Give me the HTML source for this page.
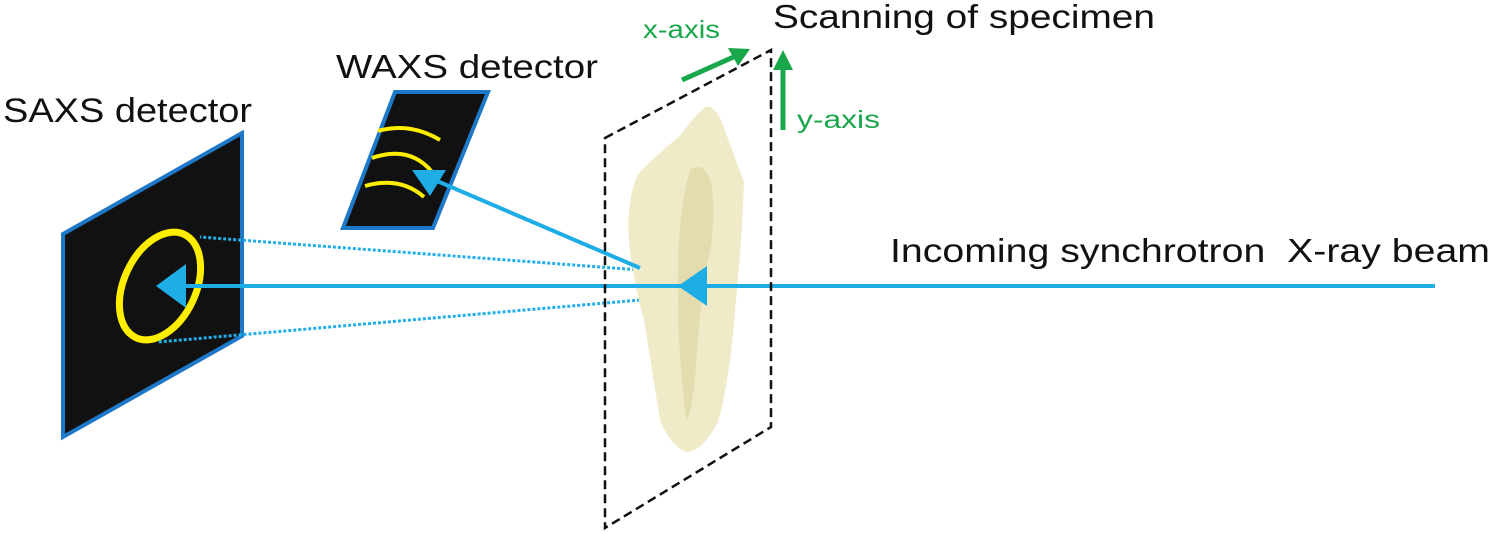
<!DOCTYPE html>
<html><head><style>body{margin:0;background:#fff}svg{display:block}</style></head><body>
<svg width="1502" height="534" viewBox="0 0 1502 534" xmlns="http://www.w3.org/2000/svg" font-family="Liberation Sans, DejaVu Sans, sans-serif">
<text x="3" y="122" font-size="34" fill="#111" textLength="249" lengthAdjust="spacingAndGlyphs">SAXS detector</text>
<text x="336" y="78" font-size="33" fill="#111" textLength="262" lengthAdjust="spacingAndGlyphs">WAXS detector</text>
<text x="773" y="28" font-size="33" fill="#111" textLength="382" lengthAdjust="spacingAndGlyphs">Scanning of specimen</text>
<text x="890" y="262" font-size="33" fill="#111" textLength="600" lengthAdjust="spacingAndGlyphs" xml:space="preserve">Incoming synchrotron  X-ray beam</text>
<text x="643" y="38" font-size="25" fill="#1aa64a" textLength="77" lengthAdjust="spacingAndGlyphs">x-axis</text>
<text x="797" y="128" font-size="25" fill="#1aa64a" textLength="83" lengthAdjust="spacingAndGlyphs">y-axis</text>
<!-- SAXS panel -->
<polygon points="63,234 242,133 242,336 63,437" fill="#111" stroke="#1e78c8" stroke-width="4"/>
<ellipse cx="160" cy="286" rx="36" ry="57" transform="rotate(25 160 286)" fill="none" stroke="#ffee00" stroke-width="7"/>
<!-- WAXS panel -->
<polygon points="395,92 488,92 433,228 343,228" fill="#111" stroke="#1e78c8" stroke-width="4"/>
<path d="M378,131 Q410,122 440,140" fill="none" stroke="#ffee00" stroke-width="4"/>
<path d="M372,158 Q410,145 432,172" fill="none" stroke="#ffee00" stroke-width="4"/>
<path d="M365,186 Q400,176 424,197" fill="none" stroke="#ffee00" stroke-width="4"/>
<!-- dotted lines -->
<line x1="640" y1="270" x2="200" y2="237" stroke="#22aee8" stroke-width="3" stroke-dasharray="3,2"/>
<line x1="640" y1="300" x2="158" y2="342" stroke="#22aee8" stroke-width="3" stroke-dasharray="3,2"/>
<!-- tooth -->
<path d="M705,107 Q716,104 724,128 L744,182 Q742,240 736,300 Q730,380 718,422 Q702,452 686,452 Q670,445 660,420 Q652,370 644,320 Q630,270 628,225 Q630,185 640,172 Q662,150 680,136 Q695,115 705,107 Z" fill="#efebc9"/>
<path d="M690,170 Q705,160 712,185 Q716,230 708,260 Q700,300 695,380 Q690,420 686,420 Q678,350 678,300 Q676,220 690,170 Z" fill="#e3dcae"/>
<!-- beams -->
<line x1="640" y1="268" x2="430" y2="178" stroke="#1fade6" stroke-width="4"/>
<polygon points="412,170 446,170 430,196" fill="#1fade6"/>
<line x1="1435" y1="286" x2="185" y2="286" stroke="#1fade6" stroke-width="4"/>
<polygon points="678,286 707,266 707,306" fill="#1fade6"/>
<polygon points="156,286 186,264 186,308" fill="#1fade6"/>
<!-- dashed plane -->
<polygon points="605,138 771,50 771,427 605,528" fill="none" stroke="#111" stroke-width="2.5" stroke-dasharray="9,5"/>
<!-- green arrows -->
<line x1="682" y1="80" x2="738" y2="55" stroke="#1aa64a" stroke-width="5"/>
<polygon points="750,49 728,48 738,66" fill="#1aa64a"/>
<line x1="783" y1="130" x2="783" y2="66" stroke="#1aa64a" stroke-width="5"/>
<polygon points="783,50 773,70 793,70" fill="#1aa64a"/>
</svg>
</body></html>
